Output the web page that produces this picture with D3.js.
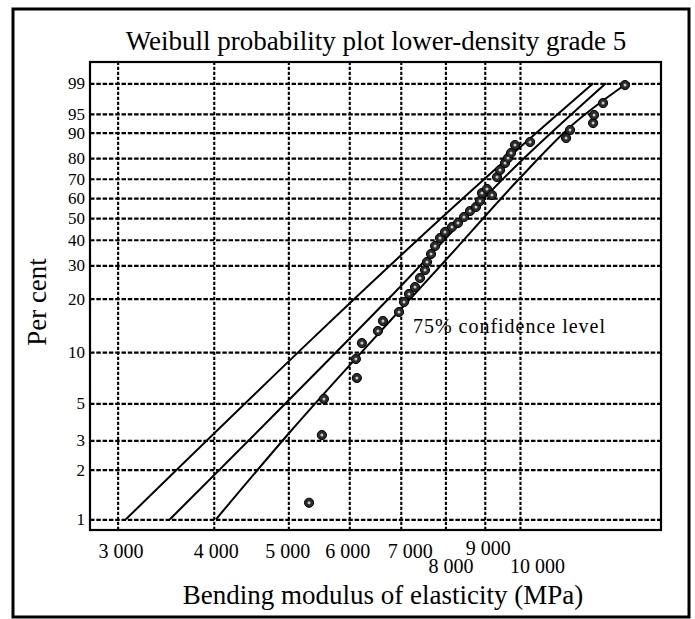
<!DOCTYPE html>
<html><head><meta charset="utf-8">
<script src="https://cdn.jsdelivr.net/npm/d3@7"></script>
<style>
html,body{margin:0;padding:0;background:#fff;}
svg{display:block;}
text{font-family:"Liberation Serif","Times New Roman",serif;fill:#000;}
</style></head><body>
<svg id="chart" width="695" height="619"></svg>
<script>
// ---------- data ----------
const titleText = "Weibull probability plot lower-density grade 5";
const xTitleText = "Bending modulus of elasticity (MPa)";
const yTitleText = "Per cent";
const noteText = "75% confidence level";

const xTicks = [3000, 4000, 5000, 6000, 7000, 8000, 9000, 10000];
const yTicks = [1, 2, 3, 5, 10, 20, 30, 40, 50, 60, 70, 80, 90, 95, 99];

// observed specimens: MoE (MPa) and plotting position (%)
const pointMPa = [5320, 5528, 5562, 6138, 6120, 6231, 6537, 6636, 6963, 7068,
  7174, 7304, 7414, 7526, 7571, 7663, 7756, 7872, 7991, 8160,
  8307, 8457, 8611, 8766, 8871, 8924, 9060, 9196, 9336, 9421,
  9563, 9649, 9736, 9852, 10306, 11479, 11617, 12445, 12482, 12822, 13692];
const pointPct = [1.26, 3.23, 5.31, 7.06, 9.12, 11.28, 13.21, 15.06, 16.9, 19.19,
  21.21, 23.11, 25.81, 28.39, 31.19, 34.18, 37.38, 40.77, 43.42, 45.74,
  47.62, 50.51, 53.47, 55.5, 58.55, 62.66, 64.76, 61.64, 70.88, 74.38,
  77.73, 80.03, 82.27, 85.56, 86.71, 88.17, 90.83, 92.83, 94.77, 96.95, 98.88];

// fitted Weibull line and 75% confidence bounds
const fitMPa = [3508, 6778, 9912, 12934];
const fitPct = [1, 20.35, 76.8, 99];
const upperMPa = [3075, 9421, 12453];
const upperPct = [1, 76.8, 99];
const lowerMPa = [4027, 5025, 6984, 7944, 10000, 11617, 13692];
const lowerPct = [1, 3.37, 17.33, 30.83, 70.38, 91.72, 98.9];

// ---------- layout ----------
const box = {left: 90, right: 661, top: 62, bottom: 530};
const svg = d3.select("#chart");

const wb = p => Math.log(-Math.log(1 - p / 100));
const x = d3.scaleLog().domain([2762, 15250]).range([box.left, box.right]);
const y = d3.scaleLinear().domain([wb(1), wb(99)]).range([519.3, 83.3]);

const fmt = d3.formatLocale({decimal: ".", thousands: " ", grouping: [3], currency: ["", ""]}).format(",");

// outer frame
svg.append("rect").attr("x", 13).attr("y", 9).attr("width", 676).attr("height", 608)
  .attr("fill", "none").attr("stroke", "#000").attr("stroke-width", 3);

// title
svg.append("text").attr("x", 376).attr("y", 50).attr("text-anchor", "middle")
  .style("font-size", "27px").text(titleText);

// y grid + labels
const gy = svg.append("g").attr("transform", `translate(${box.left},0)`)
  .call(d3.axisLeft(y).tickValues(yTicks.map(wb)).tickFormat((d, i) => yTicks[i])
    .tickSize(-(box.right - box.left)).tickPadding(5));
gy.select(".domain").remove();
gy.selectAll("line").attr("stroke", "#000").attr("stroke-width", 2.2).attr("stroke-dasharray", "4.5,1.8");
gy.selectAll("text").style("font-size", "17px").style("font-family", "Liberation Serif, serif");

// x grid + labels
const xLabelShift = {3000: [3, 0], 4000: [2, 0], 5000: [-1, 0], 6000: [-2, 0], 7000: [9, 0], 8000: [5, 15], 9000: [3, -3], 10000: [17, 15]};
const gx = svg.append("g").attr("transform", `translate(0,${box.bottom})`)
  .call(d3.axisBottom(x).tickValues(xTicks).tickFormat(fmt)
    .tickSize(-(box.bottom - box.top)).tickPadding(6));
gx.select(".domain").remove();
gx.selectAll("line").attr("stroke", "#000").attr("stroke-width", 2.1).attr("stroke-dasharray", "3.2,1.8");
gx.selectAll("text").style("font-size", "20px").style("font-family", "Liberation Serif, serif")
  .attr("dy", null)
  .attr("x", d => xLabelShift[d][0])
  .attr("y", d => 28 + xLabelShift[d][1]);

// plot box
svg.append("rect").attr("x", box.left).attr("y", box.top)
  .attr("width", box.right - box.left).attr("height", box.bottom - box.top)
  .attr("fill", "none").attr("stroke", "#000").attr("stroke-width", 2.2);

// lines
const lineGen = d3.line().x(d => x(d[0])).y(d => y(wb(d[1]))).curve(d3.curveMonotoneX);
[[fitMPa, fitPct], [upperMPa, upperPct], [lowerMPa, lowerPct]].forEach(([xs, ps]) => {
  svg.append("path").datum(xs.map((v, i) => [v, ps[i]]))
    .attr("d", lineGen).attr("fill", "none").attr("stroke", "#000").attr("stroke-width", 2);
});

// points
const pts = pointMPa.map((v, i) => [v, pointPct[i]]);
const gp = svg.append("g");
gp.selectAll("circle.o").data(pts).join("circle").attr("class", "o")
  .attr("cx", d => x(d[0])).attr("cy", d => y(wb(d[1]))).attr("r", 4.6)
  .attr("fill", "#2b2b2b").attr("stroke", "#000").attr("stroke-width", 1);
gp.selectAll("circle.c").data(pts).join("circle").attr("class", "c")
  .attr("cx", d => x(d[0])).attr("cy", d => y(wb(d[1]))).attr("r", 1.5)
  .attr("fill", "#c8c8c8");

// annotation
svg.append("text").attr("x", 413).attr("y", 333).style("font-size", "20px")
  .attr("textLength", 192).attr("lengthAdjust", "spacing").text(noteText);

// axis titles
svg.append("text").attr("x", 383).attr("y", 604).attr("text-anchor", "middle")
  .style("font-size", "27px").text(xTitleText);
svg.append("text").attr("transform", "translate(46,302) rotate(-90)").attr("text-anchor", "middle")
  .style("font-size", "27px").text(yTitleText);
</script>
</body></html>
